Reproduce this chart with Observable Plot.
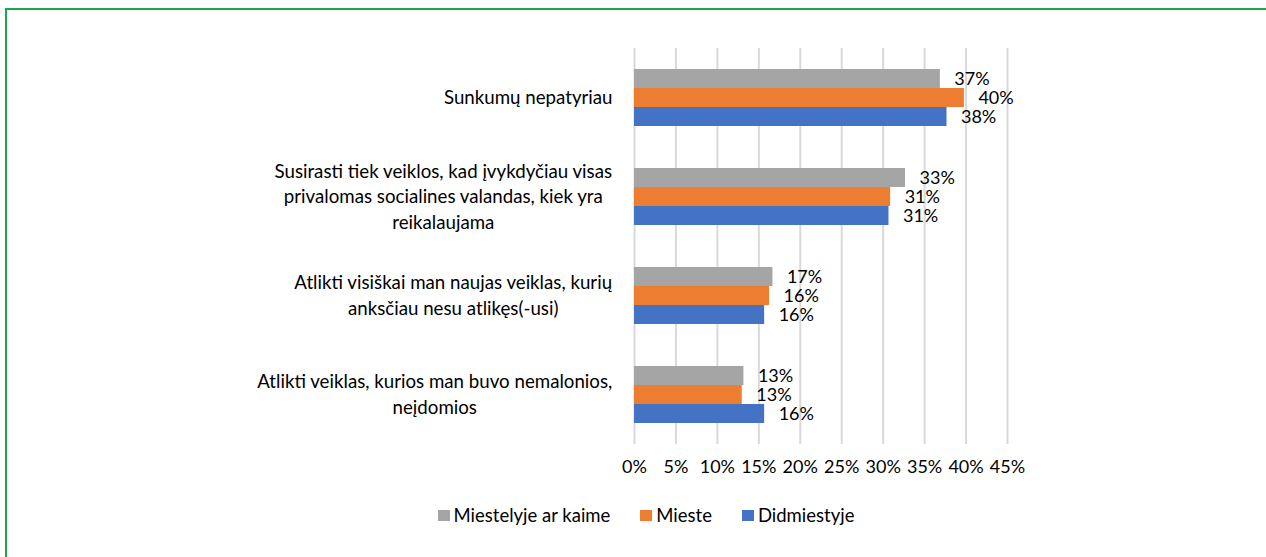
<!DOCTYPE html>
<html>
<head>
<meta charset="utf-8">
<script src="https://cdn.jsdelivr.net/npm/d3@7"></script>
<script src="https://cdn.jsdelivr.net/npm/@observablehq/plot@0.6"></script>
<style>
  html, body { margin: 0; padding: 0; background: #fff; }
  #frame { position: relative; width: 1266px; height: 557px; overflow: hidden; background: #fff; }
  #border { position: absolute; left: 5px; top: 8px; right: 0; bottom: -5px;
            border-top: 2px solid #1fa552; border-left: 2px solid #1fa552; }
  #chart { position: absolute; left: 0; top: 0; }
  #legend { position: absolute; left: 0; top: 504px; width: 1266px; display: flex; justify-content: center;
            padding-left: 26px; box-sizing: border-box;
            font-family: Lato, "Open Sans", sans-serif; font-size: 18.5px; color: #000; }
  .item { display: flex; align-items: center; margin: 0 15px; }
  .sw { width: 12px; height: 11px; margin-right: 4px; }
</style>
</head>
<body>
<div id="frame">
  <div id="border"></div>
  <div id="chart"></div>
  <div id="legend"></div>
</div>
<script>
// ---- data ----
const categories = [
  "Sunkumų nepatyriau",
  "Susirasti tiek veiklos, kad įvykdyčiau visas\nprivalomas socialines valandas, kiek yra\nreikalaujama",
  "Atlikti visiškai man naujas veiklas, kurių\nanksčiau nesu atlikęs(-usi)",
  "Atlikti veiklas, kurios man buvo nemalonios,\nneįdomios"
];
const series = ["Miestelyje ar kaime", "Mieste", "Didmiestyje"];
const seriesColors = ["#a5a5a5", "#ed7d31", "#4472c4"];
const miestelyjeArKaime = [36.9, 32.7, 16.7, 13.2];
const mieste = [39.8, 30.9, 16.3, 13.0];
const didmiestyje = [37.7, 30.7, 15.7, 15.7];
const xTicks = [0, 5, 10, 15, 20, 25, 30, 35, 40, 45];

const seriesValues = [miestelyjeArKaime, mieste, didmiestyje];
const rows = [];
categories.forEach((c, i) => series.forEach((s, j) => rows.push({cat: c, series: s, value: seriesValues[j][i]})));

const FONT = "Lato";
const FS = 18;
const CAT_FS = 18.7;
const ctx = document.createElement("canvas").getContext("2d");
ctx.font = `${CAT_FS}px ${FONT}`;
const blockWidth = c => Math.max(...c.split("\n").map(l => ctx.measureText(l).width));

const chart = Plot.plot({
  width: 1266,
  height: 490,
  marginLeft: 634,
  marginRight: 259,
  marginTop: 47,
  marginBottom: 45,
  style: {fontFamily: `${FONT}, sans-serif`, fontSize: `${FS}px`, color: "#000", background: "transparent"},
  x: {domain: [0, 45], label: null},
  y: {domain: series, padding: 0, insetTop: 20, insetBottom: 20, axis: null},
  fy: {domain: categories, padding: 0, axis: null, label: null},
  color: {domain: series, range: seriesColors},
  marks: [
    Plot.gridX(xTicks, {stroke: "#d9d9d9", strokeOpacity: 1, strokeWidth: 2}),
    Plot.barX(rows, {fy: "cat", y: "series", x: "value", fill: "series"}),
    Plot.text(rows, {fy: "cat", y: "series", x: "value", text: d => Math.round(d.value) + "%",
      textAnchor: "start", dx: 14, fill: "#000"}),
    Plot.axisX(xTicks, {tickSize: 0, tickPadding: 16, tickFormat: d => d + "%", label: null}),
    ...categories.map(c => Plot.text([c], {fy: d => d, text: d => d, frameAnchor: "left",
      textAnchor: "middle", dx: -(22 + blockWidth(c) / 2), dy: -2, fontSize: CAT_FS,
      lineHeight: 1.37, fill: "#000"}))
  ]
});
document.getElementById("chart").appendChild(chart);

const legend = document.getElementById("legend");
series.forEach((s, i) => {
  const it = document.createElement("div");
  it.className = "item";
  const sw = document.createElement("div");
  sw.className = "sw";
  sw.style.background = seriesColors[i];
  const tx = document.createElement("span");
  tx.textContent = s;
  it.appendChild(sw); it.appendChild(tx);
  legend.appendChild(it);
});
</script>
</body>
</html>
